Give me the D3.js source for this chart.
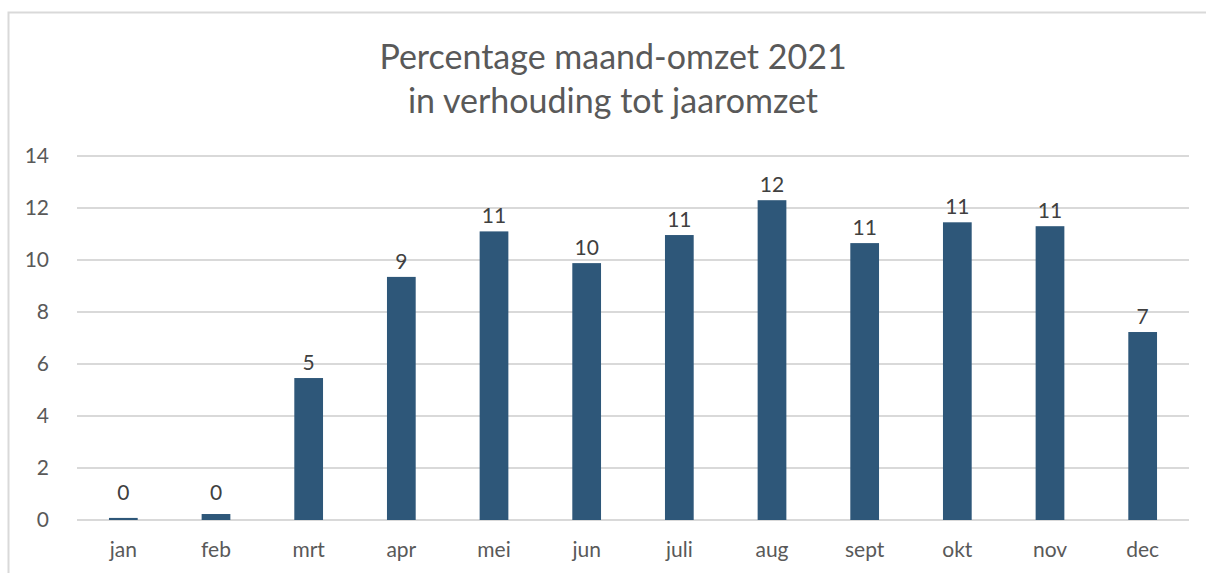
<!DOCTYPE html>
<html>
<head>
<meta charset="utf-8">
<script src="https://cdn.jsdelivr.net/npm/d3@7"></script>
<style>
  body { margin: 0; background: #fff; }
  text { font-family: Lato, "Open Sans", sans-serif; }
</style>
</head>
<body>
<script>
// maand-omzet data
var months = ["jan", "feb", "mrt", "apr", "mei", "jun", "juli", "aug", "sept", "okt", "nov", "dec"];
var percentages = [0.08, 0.23, 5.46, 9.35, 11.1, 9.88, 10.96, 12.3, 10.65, 11.45, 11.3, 7.23];
var yTicks = [0, 2, 4, 6, 8, 10, 12, 14];
var titleLines = ["Percentage maand-omzet 2021", "in verhouding tot jaaromzet"];

var svg = d3.select("body")
            .append("svg")
            .attr("width", 1206)
            .attr("height", 573);

// chart frame
svg.append("rect")
   .attr("x", 8.5)
   .attr("y", 12.5)
   .attr("width", 1220)
   .attr("height", 600)
   .attr("fill", "none")
   .attr("stroke", "#d9d9d9")
   .attr("stroke-width", 2);

var margin = {top: 156, left: 77, right: 17, bottom: 53};
var width = 1206 - margin.left - margin.right;
var height = 573 - margin.top - margin.bottom;

var g = svg.append("g")
           .attr("transform", "translate(" + margin.left + "," + margin.top + ")");

var xScale = d3.scaleBand()
               .domain(months)
               .range([0, width])
               .paddingInner(0.69)
               .paddingOuter(0.345);

var yScale = d3.scaleLinear()
               .domain([0, 14])
               .range([height, 0]);

// title
svg.append("text")
   .attr("x", 613)
   .attr("y", 69)
   .attr("text-anchor", "middle")
   .style("font-size", "34px")
   .style("fill", "#595959")
   .selectAll("tspan")
   .data(titleLines)
   .join("tspan")
   .attr("x", 613)
   .attr("dy", (d, i) => i === 0 ? 0 : 44)
   .text(d => d);

// gridlines
g.append("g")
 .selectAll("line")
 .data(yTicks)
 .join("line")
 .attr("x1", 0)
 .attr("x2", width)
 .attr("y1", d => yScale(d))
 .attr("y2", d => yScale(d))
 .attr("stroke", "#d9d9d9")
 .attr("stroke-width", 2);

// y axis
var yAxis = g.append("g")
             .call(d3.axisLeft(yScale).tickValues(yTicks).tickSize(0).tickPadding(28));
yAxis.select(".domain").remove();
yAxis.selectAll("text")
     .style("font-size", "21px")
     .style("fill", "#595959")
     .style("font-family", "Lato, 'Open Sans', sans-serif");

// x axis
var xAxis = g.append("g")
             .attr("transform", "translate(0," + height + ")")
             .call(d3.axisBottom(xScale).tickSize(0).tickPadding(22));
xAxis.select(".domain").remove();
xAxis.selectAll("text")
     .style("font-size", "21px")
     .style("fill", "#595959")
     .style("font-family", "Lato, 'Open Sans', sans-serif");

var data = months.map((m, i) => ({month: m, value: percentages[i]}));

// bars
g.selectAll("rect.bar")
 .data(data)
 .join("rect")
 .attr("class", "bar")
 .attr("x", d => xScale(d.month))
 .attr("y", d => yScale(d.value))
 .attr("width", xScale.bandwidth())
 .attr("height", d => height - yScale(d.value))
 .attr("fill", "#2e5779");

// value labels
g.selectAll("text.label")
 .data(data)
 .join("text")
 .attr("class", "label")
 .attr("x", d => xScale(d.month) + xScale.bandwidth() / 2)
 .attr("y", d => Math.min(yScale(d.value) - 8, height - 20))
 .attr("text-anchor", "middle")
 .style("font-size", "21px")
 .style("fill", "#404040")
 .text(d => d3.format(".0f")(d.value));
</script>
</body>
</html>
